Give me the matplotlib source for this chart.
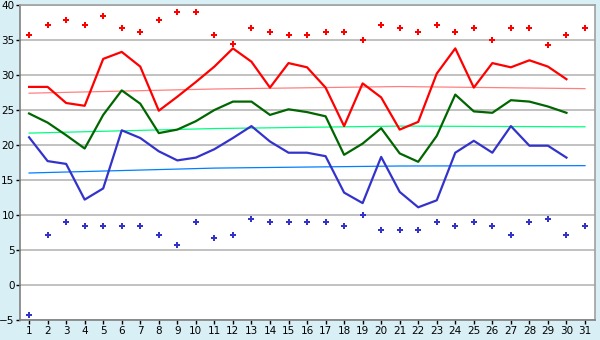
import matplotlib
matplotlib.use('Agg')
import matplotlib.pyplot as plt
import numpy as np

#***** Data *****
days = list(range(1, 32))
days_avg = list(range(1, 31))

max_abs = [35.7, 37.2, 37.8, 37.2, 38.4, 36.7, 36.1, 37.8, 39.0, 39.0,
           35.7, 34.4, 36.7, 36.1, 35.7, 35.7, 36.1, 36.1, 35.0, 37.2,
           36.7, 36.1, 37.2, 36.1, 36.7, 35.0, 36.7, 36.7, 34.3, 35.7, 36.7]
min_abs = [-4.3, 7.2, 9.0, 8.4, 8.4, 8.4, 8.4, 7.2, 5.7, 9.0,
           6.7, 7.2, 9.4, 9.0, 9.0, 9.0, 9.0, 8.4, 10.0, 7.8,
           7.8, 7.8, 9.0, 8.4, 9.0, 8.4, 7.2, 9.0, 9.4, 7.2, 8.4]

max_avg = [28.3, 28.3, 26.0, 25.6, 32.3, 33.3, 31.2, 24.9, 26.9, 29.0,
           31.2, 33.8, 31.9, 28.2, 31.7, 31.1, 28.2, 22.7, 28.8, 26.8,
           22.2, 23.3, 30.2, 33.8, 28.2, 31.7, 31.1, 32.1, 31.2, 29.4]
mean_avg = [24.5, 23.2, 21.4, 19.5, 24.3, 27.8, 25.9, 21.7, 22.2, 23.4,
            25.0, 26.2, 26.2, 24.3, 25.1, 24.7, 24.1, 18.6, 20.2, 22.4,
            18.8, 17.6, 21.3, 27.2, 24.8, 24.6, 26.4, 26.2, 25.5, 24.6]
min_avg = [21.1, 17.7, 17.3, 12.2, 13.8, 22.1, 21.0, 19.1, 17.8, 18.2,
           19.4, 21.0, 22.7, 20.5, 18.9, 18.9, 18.4, 13.2, 11.7, 18.3,
           13.3, 11.1, 12.1, 18.9, 20.6, 18.9, 22.7, 19.9, 19.9, 18.2]

# trend lines, values at a few days
trend_days = [1, 11, 21, 31]
trend_max = [27.4, 28.0, 28.35, 28.05]
trend_mean = [21.7, 22.35, 22.7, 22.6]
trend_min = [16.0, 16.7, 17.0, 17.05]
#**********************************

bg = '#d9eff6'
fig = plt.figure(figsize=(6, 3.4), dpi=100, facecolor=bg)
ax = fig.add_axes([20/600, 20/340, 575/600, 315/340], facecolor='white')

ax.set_xlim(0.51, 31.54)
ax.set_ylim(-5, 40)
ax.set_yticks(range(-5, 41, 5))
ax.set_xticks(days)
ax.grid(axis='y', color='#b0b0b0', lw=1.1)
ax.set_axisbelow(True)

# trend lines
ax.plot(trend_days, trend_max, color='#ff8080', lw=0.9)
ax.plot(trend_days, trend_mean, color='#00ff80', lw=0.9)
ax.plot(trend_days, trend_min, color='#0080ff', lw=0.9)

# averages
ax.plot(days_avg, max_avg, color='#ff0000', lw=1.6)
ax.plot(days_avg, mean_avg, color='#006600', lw=1.6)
ax.plot(days_avg, min_avg, color='#3333cc', lw=1.6)

# absolute extremes
ax.plot(days, max_abs, ls='none', marker='P', ms=4.5, color='#ff0000', mew=0)
ax.plot(days, min_abs, ls='none', marker='P', ms=4.5, color='#3333cc', mew=0)

for s in ['top', 'right']:
    ax.spines[s].set_color('#a0a0a0')
for s in ['left', 'bottom']:
    ax.spines[s].set_color('#808080')
for s in ax.spines.values():
    s.set_linewidth(1.2)

ax.tick_params(axis='both', length=3, width=1, color='black', labelsize=7.5, pad=1)

fig.savefig('out.png', dpi=100, facecolor=bg)
